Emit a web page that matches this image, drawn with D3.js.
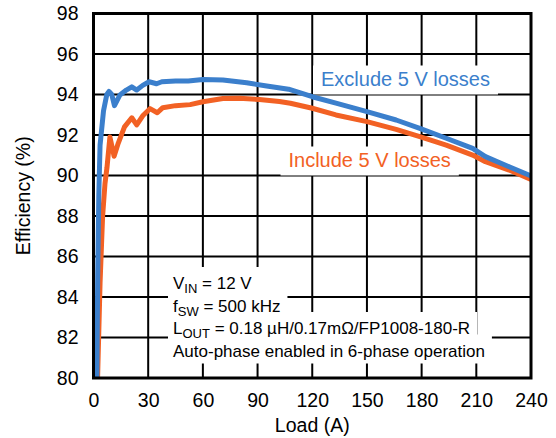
<!DOCTYPE html>
<html><head><meta charset="utf-8">
<script src="https://cdn.jsdelivr.net/npm/d3@7"></script>
<style>
body{margin:0;background:#fff}
svg{display:block}
text{font-family:Arial,"Liberation Sans",sans-serif;fill:#000}
</style>
</head><body>
<svg id="c" width="556" height="438"></svg>
<script>
// ---- data ----
const xTicks = [0, 30, 60, 90, 120, 150, 180, 210, 240];
const yTicks = [80, 82, 84, 86, 88, 90, 92, 94, 96, 98];

const excludeLoad = [1.8, 2.3, 2.9, 3.6, 5.5, 7.3, 8.5, 10, 11.5, 14.5, 18, 21, 23.7, 27, 30.5, 34.6, 37.5, 45, 52, 60, 71, 84, 95, 107, 120, 133, 150, 166, 179, 193.5, 208, 215, 228, 240];
const excludeEff  = [79.5, 85.0, 89.0, 91.5, 93.2, 94.0, 94.15, 94.0, 93.45, 93.98, 94.22, 94.38, 94.22, 94.45, 94.63, 94.53, 94.63, 94.67, 94.67, 94.74, 94.72, 94.58, 94.42, 94.26, 93.89, 93.57, 93.15, 92.74, 92.33, 91.84, 91.34, 90.93, 90.43, 89.98];

const includeLoad = [2.1, 3.6, 5.0, 6.3, 7.4, 9, 11.3, 13.6, 17, 21, 23.7, 27, 31, 35, 38, 45, 53, 60, 71, 80, 91, 102, 108, 120, 133, 150, 166, 179, 193.5, 208, 215, 228, 240];
const includeEff  = [79.5, 84.7, 88.0, 89.6, 90.4, 91.9, 90.95, 91.6, 92.4, 92.85, 92.5, 92.95, 93.3, 93.1, 93.35, 93.45, 93.5, 93.64, 93.8, 93.82, 93.75, 93.65, 93.57, 93.32, 92.99, 92.66, 92.28, 91.92, 91.5, 91.01, 90.68, 90.27, 89.81];

const seriesNames = ["Exclude 5 V losses", "Include 5 V losses"];
const xTitle = "Load (A)";
const yTitle = "Efficiency (%)";
// annotation lines: [main, subscript, rest]
const notes = [
  ["V", "IN", " = 12 V"],
  ["f", "SW", " = 500 kHz"],
  ["L", "OUT", " = 0.18 µH/0.17mΩ/FP1008-180-R"],
  ["Auto-phase enabled in 6-phase operation", "", ""]
];

// ---- layout ----
const L = 93.5, R = 531, T = 13.5, B = 378;
const blue = "#3B7FCC", orange = "#F26124";
const FONT = "Arial, 'Liberation Sans', sans-serif";
const svg = d3.select("#c");
const x = d3.scaleLinear().domain([0, 240]).range([L, R]);
const y = d3.scaleLinear().domain([80, 98]).range([B, T]);

// grid
const grid = svg.append("g");
grid.selectAll("line.v").data(xTicks.slice(1, -1)).join("line")
  .attr("x1", d => x(d)).attr("x2", d => x(d)).attr("y1", T).attr("y2", B)
  .attr("stroke", "#000").attr("stroke-width", 2);
grid.selectAll("line.h").data(yTicks.slice(1, -1)).join("line")
  .attr("y1", d => y(d)).attr("y2", d => y(d)).attr("x1", L).attr("x2", R)
  .attr("stroke", "#000").attr("stroke-width", 2);

// axes labels via d3 axes
const xa = svg.append("g").attr("transform", `translate(0,${B})`)
  .call(d3.axisBottom(x).tickValues(xTicks).tickSize(0).tickPadding(15));
xa.select(".domain").remove();
xa.selectAll("text").attr("font-size", 19.5).style("font-family", FONT).attr("fill", "#000");
const ya = svg.append("g").attr("transform", `translate(${L},0)`)
  .call(d3.axisLeft(y).tickValues(yTicks).tickSize(0).tickPadding(15));
ya.select(".domain").remove();
ya.selectAll("text").attr("font-size", 19.5).style("font-family", FONT).attr("fill", "#000");

svg.append("text").attr("x", (L + R) / 2).attr("y", 432).attr("text-anchor", "middle")
  .attr("font-size", 19.5).text(xTitle);
svg.append("text").attr("transform", `translate(30,${(T + B) / 2}) rotate(-90)`)
  .attr("text-anchor", "middle").attr("font-size", 19.5).text(yTitle);

// series labels with white boxes
const labelPos = [[321, 85.5, blue], [288.5, 166.5, orange]];
const labG = svg.append("g");
seriesNames.forEach((s, i) => {
  const [lx, ly, col] = labelPos[i];
  const bg = labG.append("rect").attr("fill", "#fff");
  const t = labG.append("text").attr("x", lx).attr("y", ly).attr("font-size", 20)
    .attr("fill", col).style("fill", col).text(s);
  const bb = t.node().getBBox();
  bg.attr("x", bb.x - 8).attr("y", ly - 20).attr("width", bb.width + 16).attr("height", 29);
});

// curves
svg.append("clipPath").attr("id", "clip").append("rect")
  .attr("x", L).attr("y", T).attr("width", R - L).attr("height", B - T);
const line = d3.line().x(d => x(d[0])).y(d => y(d[1]));
const curves = svg.append("g").attr("clip-path", "url(#clip)");
curves.append("path").datum(includeLoad.map((v, i) => [v, includeEff[i]]))
  .attr("d", line).attr("fill", "none").attr("stroke", orange).attr("stroke-width", 5)
  .attr("stroke-linejoin", "round");
curves.append("path").datum(excludeLoad.map((v, i) => [v, excludeEff[i]]))
  .attr("d", line).attr("fill", "none").attr("stroke", blue).attr("stroke-width", 5)
  .attr("stroke-linejoin", "round");

// annotation: white boxes first, then texts
const noteBg = svg.append("g");
const noteG = svg.append("g");
const baseY = [289, 311.5, 334, 356.5];
notes.forEach((n, i) => {
  const bg = noteBg.append("rect").attr("fill", "#fff");
  const t = noteG.append("text").attr("x", 173).attr("y", baseY[i]).attr("font-size", 17);
  t.append("tspan").text(n[0]);
  if (n[1]) t.append("tspan").attr("font-size", 13).attr("dy", 4).text(n[1]);
  if (n[2]) t.append("tspan").attr("dy", n[1] ? -4 : 0).text(n[2]);
  const bb = t.node().getBBox();
  bg.attr("x", 168).attr("y", baseY[i] - 22).attr("width", bb.width + 12).attr("height", 29);
});

// frame
svg.append("rect").attr("x", L).attr("y", T).attr("width", R - L).attr("height", B - T)
  .attr("fill", "none").attr("stroke", "#000").attr("stroke-width", 3);
</script>
</body></html>
